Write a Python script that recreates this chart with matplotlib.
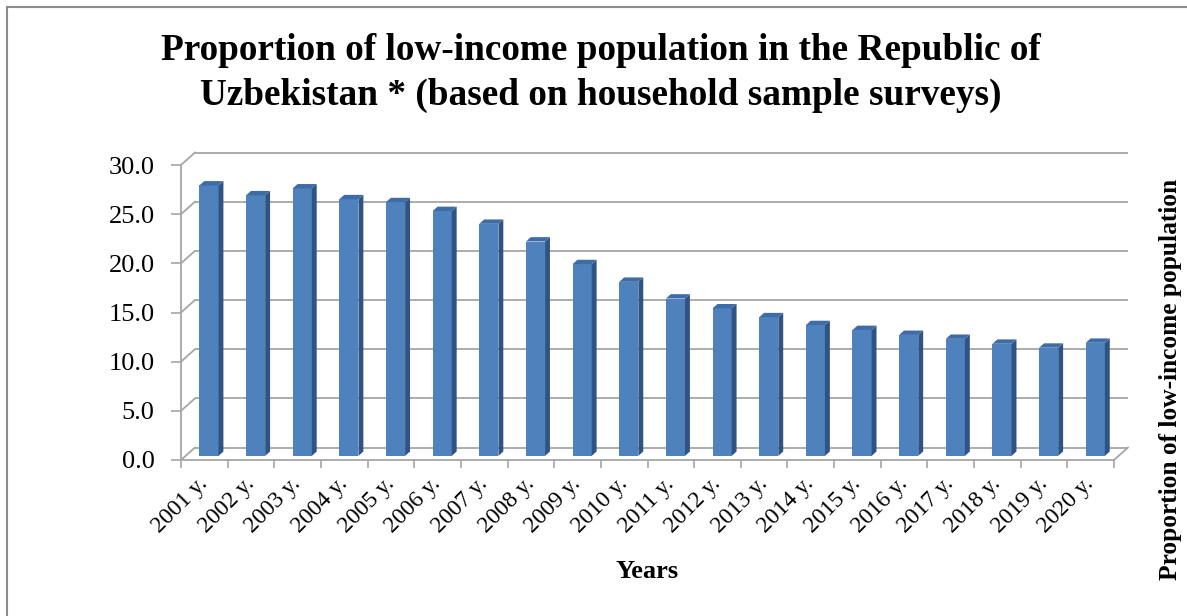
import matplotlib
matplotlib.use("Agg")
import matplotlib.pyplot as plt
from matplotlib.patches import Polygon, Rectangle
from matplotlib.ticker import FormatStrFormatter

# ---------------- data ----------------
years = ["2001 y.", "2002 y.", "2003 y.", "2004 y.", "2005 y.", "2006 y.", "2007 y.",
         "2008 y.", "2009 y.", "2010 y.", "2011 y.", "2012 y.", "2013 y.", "2014 y.",
         "2015 y.", "2016 y.", "2017 y.", "2018 y.", "2019 y.", "2020 y."]
share = [27.5, 26.5, 27.2, 26.1, 25.8, 24.9, 23.6, 21.8, 19.5, 17.7,
         16.0, 15.0, 14.1, 13.3, 12.8, 12.3, 11.9, 11.4, 11.0, 11.5]
y_ticks = [0, 5, 10, 15, 20, 25, 30]

title = "Proportion of low-income population in the Republic of\nUzbekistan * (based on household sample surveys)"
x_title = "Years"
y_title = "Proportion of low-income population"

# ---------------- style ----------------
W, H, DPI = 1187, 616, 100
serif = ["Liberation Serif", "DejaVu Serif"]
plt.rcParams["font.family"] = serif

front_c = "#4F81BD"
side_c = "#2F5382"
top_c = "#3E6CA6"
grid_c = "#A6A6A6"

fig = plt.figure(figsize=(W / DPI, H / DPI), dpi=DPI)
fig.patch.set_facecolor("white")

# front plane of axes (pixels)
x0_px, x1_px = 181, 1114
y0_px, y1_px = 460, 165
ax = fig.add_axes([x0_px / W, 1 - y0_px / H, (x1_px - x0_px) / W, (y0_px - y1_px) / H])
n = len(share)
ax.set_xlim(-0.5, n - 0.5)
ax.set_ylim(0, 30)
ax.set_facecolor("none")

# pixel -> data conversion for depth offsets
sx = (x1_px - x0_px) / n          # px per x unit
sy = (y0_px - y1_px) / 30.0       # px per y unit
DEPTH_PX = (14.0, 12.5)
ddx, ddy = DEPTH_PX[0] / sx, DEPTH_PX[1] / sy

xl, xr = -0.5, n - 0.5
# back wall gridlines + left wall diagonals
for v in y_ticks:
    ax.plot([xl + ddx, xr + ddx], [v + ddy, v + ddy], color=grid_c, lw=1.3,
            clip_on=False, zorder=1, solid_capstyle="butt")
    ax.plot([xl, xl + ddx], [v, v + ddy], color=grid_c, lw=1.3, clip_on=False, zorder=1)
# floor right edge
ax.plot([xr, xr + ddx], [0, ddy], color=grid_c, lw=1.3, clip_on=False, zorder=1)

# bars (front face + side + top)
bw = 0.41
f0, f1 = 0.33, 0.68
bx = [i + f0 * ddx for i in range(n)]
ax.bar(bx, share, width=bw, bottom=f0 * ddy, color=front_c, zorder=3,
       linewidth=0, clip_on=False)
bdx, bdy = (f1 - f0) * ddx, (f1 - f0) * ddy
for xc, v in zip(bx, share):
    b = f0 * ddy
    r = xc + bw / 2
    l = xc - bw / 2
    side = Polygon([(r, b), (r, b + v), (r + bdx, b + v + bdy), (r + bdx, b + bdy)],
                   closed=True, facecolor=side_c, edgecolor="none", zorder=3, clip_on=False)
    top = Polygon([(l, b + v), (r, b + v), (r + bdx, b + v + bdy), (l + bdx, b + v + bdy)],
                  closed=True, facecolor=top_c, edgecolor="none", zorder=4, clip_on=False)
    ax.add_patch(side)
    ax.add_patch(top)

# spines / ticks
for s in ["top", "right"]:
    ax.spines[s].set_visible(False)
for s in ["left", "bottom"]:
    ax.spines[s].set_color(grid_c)
    ax.spines[s].set_linewidth(1.3)
    ax.spines[s].set_zorder(2)

ax.set_yticks(y_ticks)
ax.yaxis.set_major_formatter(FormatStrFormatter("%.1f"))
ax.tick_params(axis="y", length=7, width=1.2, color=grid_c, pad=12, labelsize=19)

ax.set_xticks(range(n))
ax.set_xticklabels(years)
ax.set_xticks([i - 0.5 for i in range(n + 1)], minor=True)
ax.tick_params(axis="x", which="major", length=0, pad=15, labelsize=17)
ax.tick_params(axis="x", which="minor", length=6, width=1.2, color=grid_c)
plt.setp(ax.get_xticklabels(), rotation=45, ha="right", va="center", rotation_mode="anchor")

# texts
fig.text(601 / W, 1 - 73 / H, title, ha="center", va="center", fontsize=26.8,
         fontweight="bold", linespacing=1.36)
fig.text(647 / W, 1 - 571 / H, x_title, ha="center", va="center", fontsize=19, fontweight="bold")
fig.text(1171 / W, 1 - 379 / H, y_title, ha="center", va="center", fontsize=18.3,
         fontweight="bold", rotation=90)

# outer frame
fig.add_artist(Rectangle((7 / W, -0.1), 1.2, 1 - 7 / H + 0.1, transform=fig.transFigure,
                         fill=False, edgecolor="#8C8C8C", lw=1.5))

fig.savefig("out.png", dpi=DPI, facecolor="white")
